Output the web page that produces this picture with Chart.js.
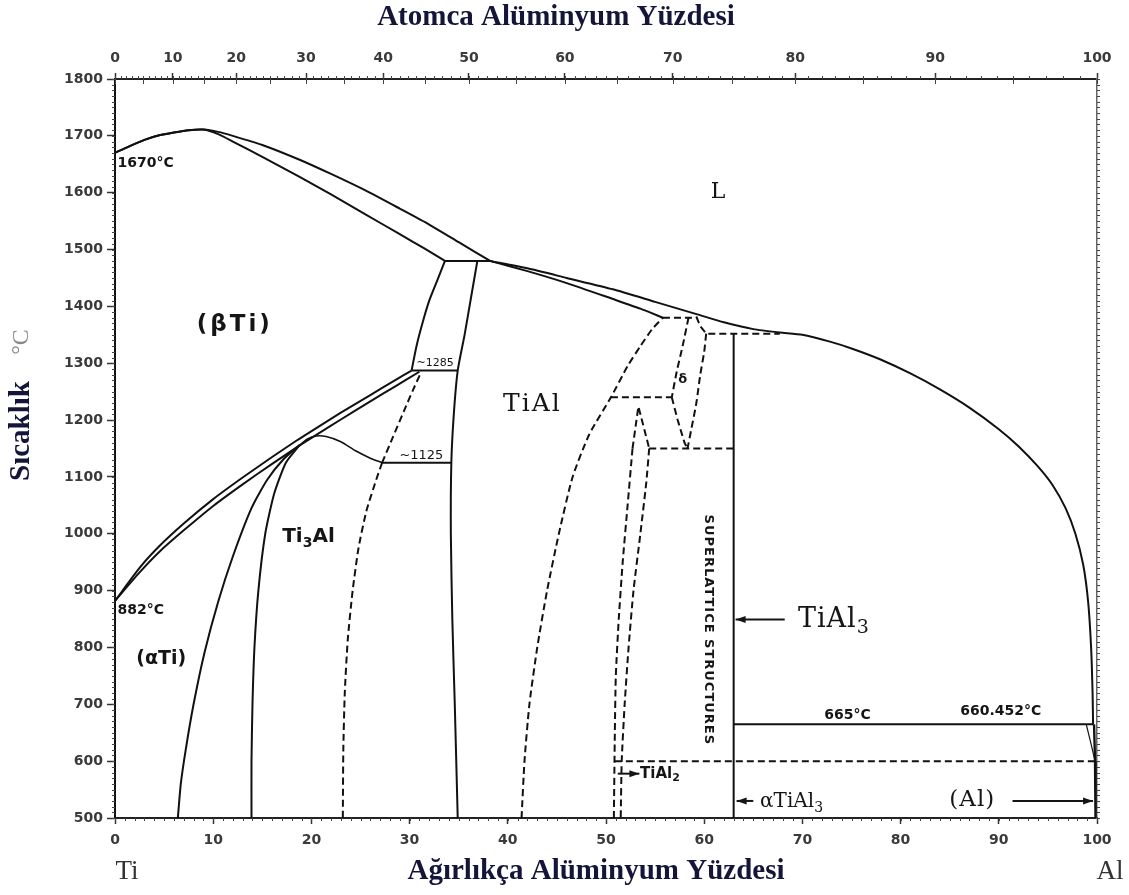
<!DOCTYPE html>
<html>
<head>
<meta charset="utf-8">
<script src="https://cdn.jsdelivr.net/npm/chart.js@4.4.1/dist/chart.umd.min.js"></script>
<style>
  html, body { margin: 0; padding: 0; background: #fff; }
  canvas { display: block; }
</style>
</head>
<body>
<canvas id="phase" width="1129" height="895"></canvas>
<script>
// molar masses for the at% <-> wt% top axis
const M_AL = 26.98, M_TI = 47.87;
const atPercentTicks = [0, 10, 20, 30, 40, 50, 60, 70, 80, 90, 100];
const atToWt = a => 100 * a * M_AL / (a * M_AL + (100 - a) * M_TI);

// phase boundaries, [wt% Al, °C]
const betaLiquidus = [[0,1670],[1.5,1682],[3,1693],[4.5,1701],[6,1706],[7.5,1710],[9,1711],[10.5,1707],[12,1700],[15,1684],[18.8,1658],[22,1633],[25.5,1604],[29,1572],[32,1544],[35,1513],[38.2,1480]];
const betaSolidus = [[0,1670],[1.5,1682],[3,1693],[4.5,1701],[6,1706],[7.5,1710],[9,1711],[10.5,1703],[12,1690],[15,1663],[18.8,1628],[22,1597],[25.5,1562],[29,1527],[31.5,1502],[33.6,1480]];
const peritectic1480 = [[33.6,1480],[38.2,1480]];
const alphaBeta = [[33.6,1480],[32.8,1445],[32,1410],[31.3,1370],[30.7,1330],[30.2,1287]];
const gammaLeft = [[36.9,1480],[36.3,1420],[35.6,1350],[34.9,1287],[34.5,1210],[34.25,1125],[34.2,1000],[34.35,850],[34.6,700],[34.9,500]];
const eutectoid1285 = [[30.2,1287],[34.9,1287]];
const betaTransus = [[0,882],[2.5,940],[4.5,978],[7,1018],[10,1061],[13,1099],[16,1135],[18.5,1164],[20.5,1186],[23,1213],[26,1244],[28.5,1270],[30.2,1287]];
const alphaTransus = [[0,882],[2.5,932],[4.5,968],[7,1006],[10,1049],[13,1087],[16,1123],[18.5,1152],[20.5,1174],[23,1201],[26,1233],[28.5,1259],[31,1285]];
const ti3AlDome = [[18.8,1156],[19.6,1167],[20.5,1172],[21.5,1171],[23,1162],[24.5,1146],[26,1133],[27.2,1125]];
const alphaAlpha2 = [[6.4,500],[6.7,560],[7.2,620],[8,700],[9.1,790],[10.5,880],[12,960],[13.9,1045],[15.5,1095],[17.2,1132],[18.8,1156]];
const alpha2Left = [[13.9,500],[13.9,600],[14,700],[14.2,800],[14.6,900],[15.3,1000],[16.2,1070],[17.4,1125],[18.8,1156]];
const alpha2Right = [[27.2,1125],[26.6,1095],[25.6,1040],[24.8,975],[24.2,900],[23.7,813],[23.4,720],[23.25,620],[23.2,500]];
const alpha2Gamma = [[27.2,1125],[28.3,1170],[29.4,1215],[30.4,1255],[31.2,1285]];
const eutectoid1125 = [[27.2,1125],[34.25,1125]];
const tialLiquidus = [[38.2,1480],[42,1467],[46,1450],[50.7,1430],[55,1408],[59.3,1386],[62,1372],[65,1360],[67.7,1354],[70,1350],[72.8,1338],[75,1326],[77.9,1307],[81,1282],[84,1254],[87,1222],[90,1184],[92,1154],[94,1118],[95.5,1085],[96.8,1045],[97.8,1000],[98.6,945],[99.1,880],[99.4,800],[99.55,720],[99.6,665]];
const tialSolidus = [[38.2,1480],[42,1462],[46,1441],[50.7,1413],[53.5,1396],[55.8,1380]];
const peritectic1380 = [[55.8,1380],[59.3,1380]];
const gammaRight = [[41.4,500],[41.7,600],[42.2,700],[43,800],[44,900],[45.2,1000],[46.6,1100],[48.3,1175],[50.5,1240],[52.2,1295],[53.5,1330],[54.7,1360],[55.8,1380]];
const line1240 = [[50.5,1240],[56.7,1240]];
const deltaLeft = [[58.4,1380],[57.8,1330],[57.2,1285],[56.7,1240]];
const deltaLower = [[56.7,1240],[57.3,1200],[58,1160],[58.3,1150]];
const deltaRight = [[60.2,1352],[60,1320],[59.6,1280],[59.2,1230],[58.7,1185],[58.3,1150]];
const tial3Peritectic = [[59.2,1382],[59.6,1365],[60.2,1352],[67.7,1352]];
const line1150 = [[54.4,1150],[63,1150]];
const tial2Peak = [[52.7,1150],[53.3,1224],[54.4,1150]];
const tial2Left = [[52.7,1150],[52.2,1050],[51.7,950],[51.3,850],[51,750],[50.9,650],[50.8,500]];
const tial2Right = [[54.4,1150],[54.1,1090],[53.5,1000],[52.8,900],[52.3,800],[51.9,700],[51.6,600],[51.5,500]];
const line600 = [[50.9,600],[100,600]];
const tial3 = [[63,1352],[63,500]];
const eutectic665 = [[63,665],[99.6,665]];
const alSolvus = [[98.9,665],[99.4,630],[99.8,600]];
const alBoundary = [[99.7,665],[99.8,600],[99.85,500]];

// which line gets which stroke
const boundaries = [
  { pts: betaLiquidus, smooth: true }, { pts: betaSolidus, smooth: true },
  { pts: peritectic1480 }, { pts: alphaBeta, smooth: true }, { pts: gammaLeft, smooth: true },
  { pts: eutectoid1285 }, { pts: betaTransus, smooth: true }, { pts: alphaTransus, smooth: true },
  { pts: ti3AlDome, smooth: true, width: 1.6 }, { pts: alphaAlpha2, smooth: true }, { pts: alpha2Left, smooth: true },
  { pts: alpha2Right, smooth: true, dash: true }, { pts: alpha2Gamma, smooth: true, dash: true },
  { pts: eutectoid1125 }, { pts: tialLiquidus, smooth: true }, { pts: tialSolidus, smooth: true },
  { pts: peritectic1380, dash: true }, { pts: gammaRight, smooth: true, dash: true },
  { pts: line1240, dash: true }, { pts: deltaLeft, smooth: true, dash: true },
  { pts: deltaLower, dash: true }, { pts: deltaRight, smooth: true, dash: true },
  { pts: tial3Peritectic, dash: true }, { pts: line1150, dash: true },
  { pts: tial2Peak, dash: true }, { pts: tial2Left, smooth: true, dash: true },
  { pts: tial2Right, smooth: true, dash: true }, { pts: line600, dash: true },
  { pts: tial3 }, { pts: eutectic665 }, { pts: alSolvus, width: 1.2 }, { pts: alBoundary, width: 2.4 },
];

const datasets = boundaries.map(b => ({
  data: b.pts.map(([x, y]) => ({ x, y })),
  showLine: true,
  pointRadius: 0,
  borderColor: '#111',
  borderWidth: b.width || 2,
  borderDash: b.dash ? [7, 4] : [],
  tension: b.smooth ? 0.2 : 0,
  clip: 4,
}));

const serif = '"Liberation Serif", "Times New Roman", serif';
const slab = '"DejaVu Serif", serif';
const sans = '"DejaVu Sans", sans-serif';

// region labels: [text, subscript?] runs at data coordinates
const notes = [
  { runs: [['1670°C']], at: [0.25, 1652], f: { size: 14, family: sans, weight: 'bold' }, align: 'left' },
  { runs: [['L']], at: [61.4, 1600], f: { size: 22, family: slab } },
  { runs: [['(βTi)']], at: [12.2, 1368], f: { size: 23, family: sans, weight: 'bold', spacing: 3 } },
  { runs: [['~1285']], at: [32.6, 1300], f: { size: 11, family: sans } },
  { runs: [['TiAl']], at: [42.5, 1228], f: { size: 25, family: slab, spacing: 2 } },
  { runs: [['δ']], at: [57.8, 1272], f: { size: 13, family: sans, weight: 'bold' } },
  { runs: [['Ti'], ['3', true], ['Al']], at: [19.7, 995], f: { size: 20, family: sans, weight: 'bold' } },
  { runs: [['~1125']], at: [31.2, 1137], f: { size: 13, family: sans } },
  { runs: [['882°C']], at: [0.25, 865], f: { size: 14, family: sans, weight: 'bold' }, align: 'left' },
  { runs: [['(αTi)']], at: [4.7, 780], f: { size: 19, family: sans, weight: 'bold' } },
  { runs: [['TiAl'], ['3', true]], at: [73.2, 849], f: { size: 27, family: slab, spacing: 1 } },
  { runs: [['665°C']], at: [74.6, 681], f: { size: 14, family: sans, weight: 'bold' } },
  { runs: [['660.452°C']], at: [90.2, 688], f: { size: 14, family: sans, weight: 'bold' } },
  { runs: [['TiAl'], ['2', true]], at: [55.5, 578], f: { size: 15, family: sans, weight: 'bold' } },
  { runs: [['αTiAl'], ['3', true]], at: [68.9, 528], f: { size: 20, family: slab } },
  { runs: [['(Al)']], at: [87.3, 532], f: { size: 23, family: slab, spacing: 1 } },
];
const pointers = [
  { from: [68.2, 849], to: [63.2, 849] },
  { from: [51.2, 578], to: [53.4, 578] },
  { from: [65.0, 530], to: [63.3, 530] },
  { from: [91.4, 530], to: [99.6, 530] },
];

function drawRuns(ctx, runs, cx, cy, f, align) {
  const w = f.weight || 'normal';
  const main = `${w} ${f.size}px ${f.family}`;
  const sub = `${w} ${Math.round(f.size * 0.72)}px ${f.family}`;
  ctx.letterSpacing = (f.spacing || 0) + 'px';
  ctx.textAlign = 'left';
  ctx.textBaseline = 'middle';
  let total = 0;
  const widths = runs.map(([t, s]) => { ctx.font = s ? sub : main; const m = ctx.measureText(t).width; total += m; return m; });
  let xx = align === 'left' ? cx : cx - total / 2;
  runs.forEach(([t, s], i) => {
    ctx.font = s ? sub : main;
    ctx.fillText(t, xx, s ? cy + f.size * 0.32 : cy);
    xx += widths[i];
  });
  ctx.letterSpacing = '0px';
}

function drawArrow(ctx, x1, y1, x2, y2) {
  const ang = Math.atan2(y2 - y1, x2 - x1);
  ctx.beginPath(); ctx.moveTo(x1, y1); ctx.lineTo(x2, y2); ctx.stroke();
  ctx.beginPath();
  ctx.moveTo(x2, y2);
  ctx.lineTo(x2 - 10 * Math.cos(ang) + 3.5 * Math.sin(ang), y2 - 10 * Math.sin(ang) - 3.5 * Math.cos(ang));
  ctx.lineTo(x2 - 10 * Math.cos(ang) - 3.5 * Math.sin(ang), y2 - 10 * Math.sin(ang) + 3.5 * Math.cos(ang));
  ctx.closePath(); ctx.fill();
}

const decor = {
  id: 'decor',
  afterDraw(chart) {
    const { ctx, chartArea: ca, scales: { x, y } } = chart;
    const px = v => x.getPixelForValue(v), py = v => y.getPixelForValue(v);
    ctx.save();

    // minor ticks round the frame
    ctx.strokeStyle = '#444'; ctx.lineWidth = 1;
    ctx.beginPath();
    for (let t = 500; t <= 1800; t += 10) {
      const yy = Math.round(py(t)) + 0.5;
      ctx.moveTo(ca.left - 3, yy); ctx.lineTo(ca.left, yy);
      ctx.moveTo(ca.right, yy); ctx.lineTo(ca.right + 3, yy);
    }
    for (let w = 0; w <= 100; w++) {
      const xx = Math.round(px(w)) + 0.5;
      ctx.moveTo(xx, ca.bottom); ctx.lineTo(xx, ca.bottom + 3);
    }
    for (let a = 0; a <= 100; a++) {
      const xx = Math.round(px(atToWt(a))) + 0.5;
      ctx.moveTo(xx, ca.top - 3); ctx.lineTo(xx, ca.top);
      if (a % 5 === 0) { ctx.moveTo(xx, ca.top); ctx.lineTo(xx, ca.top + 5); }
    }
    ctx.stroke();

    // labels inside the diagram
    ctx.fillStyle = '#151515';
    notes.forEach(n => drawRuns(ctx, n.runs, px(n.at[0]), py(n.at[1]), n.f, n.align));

    ctx.save();
    ctx.translate(px(60.4), py(831));
    ctx.rotate(Math.PI / 2);
    ctx.font = `bold 13px ${sans}`;
    ctx.letterSpacing = '1px';
    ctx.textAlign = 'center'; ctx.textBaseline = 'middle';
    ctx.fillText('SUPERLATTICE STRUCTURES', 0, 0);
    ctx.restore();

    ctx.strokeStyle = '#151515'; ctx.lineWidth = 2;
    pointers.forEach(p => drawArrow(ctx, px(p.from[0]), py(p.from[1]), px(p.to[0]), py(p.to[1])));

    // axis titles
    const navy = '#15153a';
    ctx.fillStyle = navy;
    ctx.textAlign = 'center'; ctx.textBaseline = 'middle';
    ctx.font = `bold 29px ${serif}`;
    ctx.fillText('Atomca Alüminyum Yüzdesi', 556, 18);
    ctx.fillText('Ağırlıkça Alüminyum Yüzdesi', 596, 872);
    ctx.font = `27px ${serif}`;
    ctx.fillStyle = '#333';
    ctx.fillText('Ti', 127, 872);
    ctx.fillText('Al', 1110, 872);

    ctx.save();
    ctx.translate(22, 431);
    ctx.rotate(-Math.PI / 2);
    ctx.fillStyle = navy;
    ctx.font = `bold 29px ${serif}`;
    ctx.fillText('Sıcaklık', 0, 0);
    ctx.restore();
    ctx.save();
    ctx.translate(22, 342);
    ctx.rotate(-Math.PI / 2);
    ctx.fillStyle = '#888';
    ctx.font = `24px ${serif}`;
    ctx.fillText('°C', 0, 0);
    ctx.restore();

    ctx.restore();
  }
};

const tickFont = { family: 'DejaVu Sans', size: 14, weight: 'bold' };

new Chart(document.getElementById('phase'), {
  type: 'scatter',
  data: { datasets },
  options: {
    responsive: false,
    animation: false,
    layout: { padding: 0 },
    plugins: { legend: { display: false }, tooltip: { enabled: false } },
    events: [],
    scales: {
      x: {
        type: 'linear', position: 'bottom', min: 0, max: 100,
        ticks: { stepSize: 10, font: tickFont, color: '#3a3a3a', padding: 8, maxRotation: 0, callback: v => String(v) },
        grid: { drawOnChartArea: false, tickLength: 6, color: '#333', tickWidth: 1.5 },
        border: { display: true, color: '#222', width: 2, dash: [5, 2] },
        afterFit: s => { s.height = 77; },
      },
      xTop: {
        type: 'linear', position: 'top', min: 0, max: 100,
        afterBuildTicks: axis => { axis.ticks = atPercentTicks.map(a => ({ value: atToWt(a) })); },
        ticks: { autoSkip: false, maxRotation: 0, font: tickFont, color: '#3a3a3a', padding: 6,
                 callback: (v, i) => String(atPercentTicks[i]) },
        grid: { drawOnChartArea: false, tickLength: 6, color: '#333', tickWidth: 1.5 },
        border: { display: true, color: '#222', width: 2, dash: [5, 3] },
        afterFit: s => { s.height = 79; },
      },
      y: {
        type: 'linear', position: 'left', min: 500, max: 1800,
        ticks: { stepSize: 100, font: tickFont, color: '#3a3a3a', padding: 4, callback: v => String(v) },
        grid: { drawOnChartArea: false, tickLength: 8, color: '#333', tickWidth: 1.5 },
        border: { display: true, color: '#111', width: 2 },
        afterFit: s => { s.width = 115; },
      },
      yRight: {
        type: 'linear', position: 'right', min: 500, max: 1800,
        ticks: { display: false },
        grid: { display: false },
        border: { display: true, color: '#666', width: 1.5, dash: [2, 2] },
        afterFit: s => { s.width = 32; },
      },
    },
  },
  plugins: [decor],
});
</script>
</body>
</html>
